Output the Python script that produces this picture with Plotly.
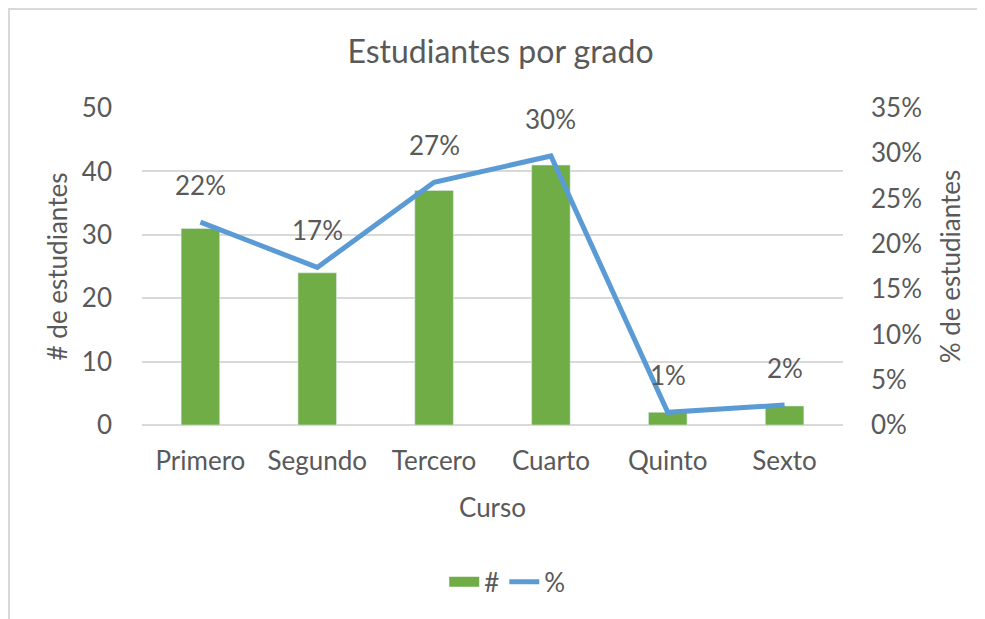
import plotly.graph_objects as go

categories = ["Primero", "Segundo", "Tercero", "Cuarto", "Quinto", "Sexto"]
counts = [31, 24, 37, 41, 2, 3]
percents = [0.224, 0.174, 0.268, 0.297, 0.014, 0.022]
pct_labels = ["22%", "17%", "27%", "30%", "1%", "2%"]

FONT = "Lato, Open Sans, sans-serif"
TXT = "#595959"
GRID = "#d9d9d9"
GREEN = "#70AD47"
BLUE = "#5B9BD5"
FS = 26

fig = go.Figure()
fig.add_trace(go.Bar(x=categories, y=counts, name="#", marker_color=GREEN,
                     width=0.33, yaxis="y", showlegend=False))
# legend proxy for the bar series (wide rectangle swatch)
fig.add_trace(go.Scatter(x=[categories[0]], y=[None], name="#", mode="lines",
                         line=dict(color=GREEN, width=16), yaxis="y", showlegend=True))
fig.add_trace(go.Scatter(x=categories, y=percents, name="%", mode="lines",
                         line=dict(color=BLUE, width=5), yaxis="y2"))

for c, p, t in zip(categories, percents, pct_labels):
    fig.add_annotation(x=c, y=p, xref="x", yref="y2", text=t, showarrow=False,
                       yshift=37, font=dict(family=FONT, size=FS, color=TXT))

fig.add_shape(type="rect", xref="paper", yref="paper", x0=-0.1897, x1=1.4, y0=-1.0, y1=1.3123,
              line=dict(color=GRID, width=2), fillcolor="rgba(0,0,0,0)", layer="below")

fig.update_layout(
    width=985, height=619,
    margin=dict(l=134, r=150, t=100, b=202),
    paper_bgcolor="white", plot_bgcolor="white",
    font=dict(family=FONT, color=TXT, size=FS),
    title=dict(text="Estudiantes por grado", x=0.5, xanchor="center", y=0.929, yanchor="middle",
               font=dict(family=FONT, size=32, color=TXT)),
    xaxis=dict(showgrid=False, showline=False, ticks="", tickfont=dict(size=FS, color=TXT),
               ticklabelstandoff=18,
               title=dict(text="Curso", font=dict(size=FS, color=TXT), standoff=23)),
    yaxis=dict(range=[0, 50], dtick=10, showgrid=True, gridcolor=GRID, gridwidth=1.5,
               zeroline=True, zerolinecolor=GRID, zerolinewidth=1.5, showline=False, ticks="",
               ticklabelstandoff=29,
               tickfont=dict(size=FS, color=TXT),
               title=dict(text="# de estudiantes", font=dict(size=FS, color=TXT), standoff=6)),
    yaxis2=dict(range=[0, 0.35], dtick=0.05, tickformat=".0%", overlaying="y", side="right",
                showgrid=False, zeroline=False, showline=False, ticks="",
                ticklabelstandoff=27,
                tickfont=dict(size=FS, color=TXT),
                title=dict(text="% de estudiantes", font=dict(size=FS, color=TXT), standoff=20)),
    legend=dict(orientation="h", x=0.521, xanchor="center", y=-0.495, yanchor="middle",
                font=dict(size=FS, color=TXT), traceorder="normal"),
    showlegend=True,
)

fig.write_html("out.html")
